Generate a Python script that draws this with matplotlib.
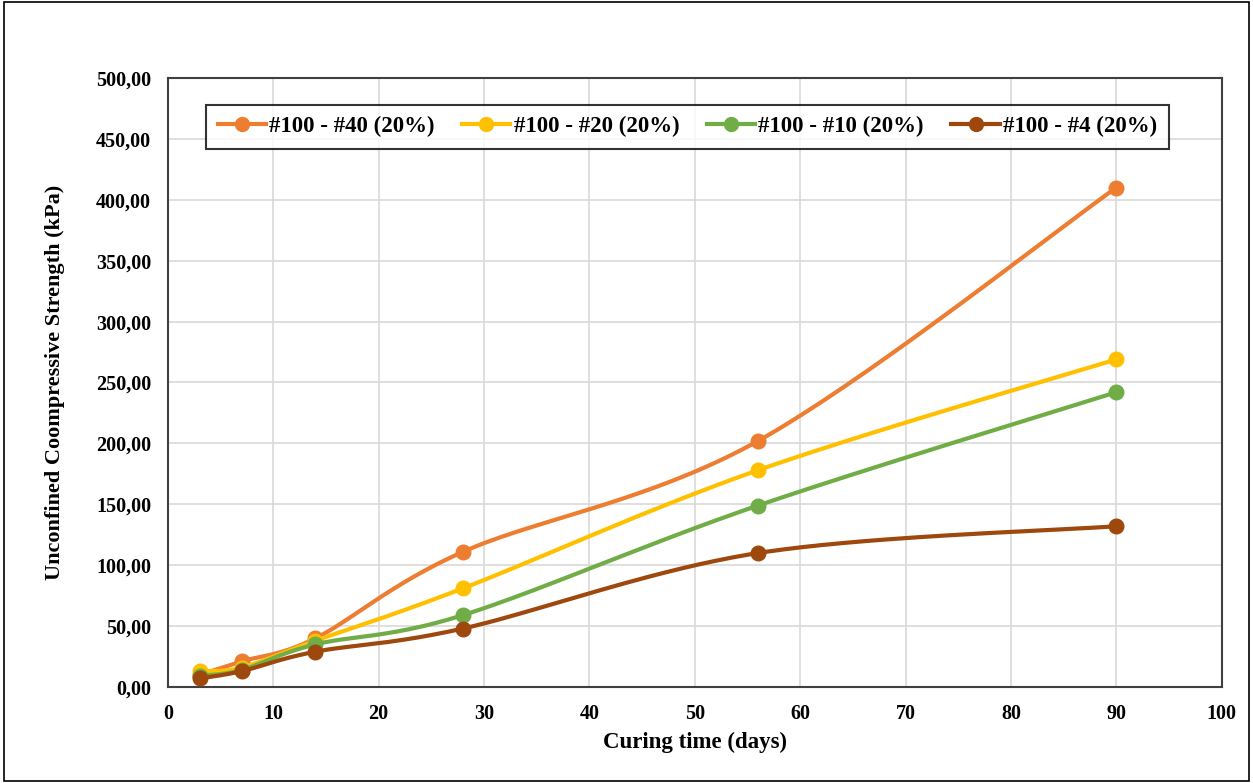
import numpy as np
import matplotlib.pyplot as plt
from matplotlib.patches import Rectangle
from matplotlib.ticker import FuncFormatter

days = [3, 7, 14, 28, 56, 90]
labels = ["#100 - #40 (20%)", "#100 - #20 (20%)", "#100 - #10 (20%)", "#100 - #4 (20%)"]
s40 = [10, 21, 40, 111, 202, 410]
s20 = [13, 16, 38, 81, 178, 269]
s10 = [9, 14, 35, 59, 149, 242]
s4 = [7, 13, 29, 48, 110, 132]
colors = ["#ED7D31", "#FFC000", "#70AD47", "#9E480E"]


def smooth(x, y, n=40):
    # Excel-like smoothed line: cubic bezier with catmull-rom control points
    x = np.asarray(x, float)
    y = np.asarray(y, float)
    px = np.concatenate([[x[0]], x, [x[-1]]])
    py = np.concatenate([[y[0]], y, [y[-1]]])
    xs, ys = [], []
    t = np.linspace(0, 1, n)
    for i in range(len(x) - 1):
        p0 = np.array([px[i + 1], py[i + 1]])
        p3 = np.array([px[i + 2], py[i + 2]])
        c1 = p0 + (np.array([px[i + 2], py[i + 2]]) - np.array([px[i], py[i]])) / 6
        c2 = p3 - (np.array([px[i + 3], py[i + 3]]) - np.array([px[i + 1], py[i + 1]])) / 6
        b = ((1 - t) ** 3)[:, None] * p0 + (3 * (1 - t) ** 2 * t)[:, None] * c1 \
            + (3 * (1 - t) * t ** 2)[:, None] * c2 + (t ** 3)[:, None] * p3
        xs.extend(b[:, 0])
        ys.extend(b[:, 1])
    return xs, ys


plt.rcParams['font.family'] = ['Liberation Serif', 'DejaVu Serif']
plt.rcParams['font.weight'] = 'bold'

fig = plt.figure(figsize=(12.53, 7.83), dpi=100)
ax = fig.add_axes([0.134, 0.1226, 0.841, 0.7778])
fig.patches.append(Rectangle((0.003, 0.003), 0.994, 0.994, transform=fig.transFigure,
                             fill=False, edgecolor="black", linewidth=1.2))

for i, series in enumerate([s40, s20, s10, s4]):
    sx, sy = smooth(days, series)
    ax.plot(sx, sy, color=colors[i], linewidth=3, zorder=3 + i)
    ax.plot(days, series, "o", color=colors[i], markersize=10.5, zorder=3 + i)
    ax.plot([], [], "-o", color=colors[i], linewidth=3, markersize=10, label=labels[i])

ax.set_xlim(0, 100)
ax.set_ylim(0, 500)
ax.set_xticks(np.arange(0, 101, 10))
ax.set_yticks(np.arange(0, 501, 50))
ax.yaxis.set_major_formatter(FuncFormatter(lambda v, p: f"{v:.2f}".replace(".", ",")))
ax.grid(True, color="#d9d9d9", linewidth=1.2)
ax.set_axisbelow(True)
for sp in ax.spines.values():
    sp.set_color("#404040")
    sp.set_linewidth(1.5)
ax.tick_params(length=0, labelsize=14.5)
ax.tick_params(axis="x", pad=12)
ax.tick_params(axis="y", pad=12)
for lab in ax.get_xticklabels() + ax.get_yticklabels():
    lab.set_fontweight("bold")

ax.set_xlabel("Curing time (days)", fontsize=16.5, fontweight="bold", labelpad=6)
ax.set_ylabel("Unconfined Coompressive Strength (kPa)", fontsize=16, fontweight="bold", labelpad=22)

leg = ax.legend(loc="upper center", bbox_to_anchor=(0.493, 0.956), ncol=4, fontsize=16.5,
                frameon=True, fancybox=False, edgecolor="black", handlelength=2.1,
                columnspacing=1.2, handletextpad=0.15, borderpad=0.5, borderaxespad=0)
leg.get_frame().set_linewidth(1.5)
for t in leg.get_texts():
    t.set_fontweight("bold")

plt.savefig("out.png", dpi=100)
